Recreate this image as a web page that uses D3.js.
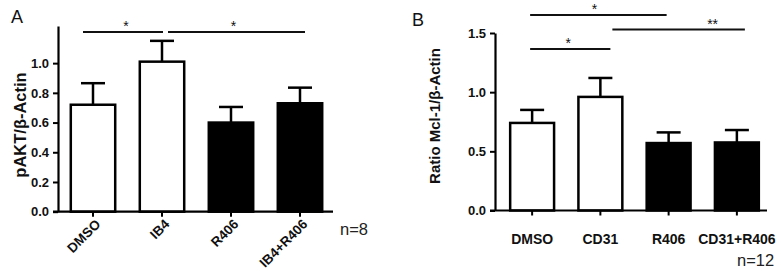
<!DOCTYPE html>
<html>
<head>
<meta charset="utf-8">
<script src="https://cdn.jsdelivr.net/npm/d3@7"></script>
<style>
  body { margin: 0; background: #fff; }
  svg { display: block; font-family: "Liberation Sans", Arial, sans-serif; }
</style>
</head>
<body>
<div class="chart-container"></div>
<script>
// Panel A data
const catsA = ["DMSO", "IB4", "R406", "IB4+R406"];
const meansA = [0.72, 1.01, 0.60, 0.73];
const semA = [0.145, 0.14, 0.105, 0.105];
const ticksA = [0, 0.2, 0.4, 0.6, 0.8, 1.0];
const sigA = [[0, 1, "*"], [1, 3, "*"]];

// Panel B data
const catsB = ["DMSO", "CD31", "R406", "CD31+R406"];
const meansB = [0.74, 0.96, 0.57, 0.575];
const semB = [0.11, 0.16, 0.09, 0.105];
const ticksB = [0, 0.5, 1.0, 1.5];
const sigB = [[0, 2, "*"], [1, 3, "**"], [0, 1, "*"]];

const width = 781;
const height = 271;

const svg = d3.select('.chart-container').append("svg")
    .attr("width", width)
    .attr("height", height);

function drawPanel(opt){
    const x = d3.scaleBand()
        .domain(opt.cats)
        .range([opt.left + opt.pad, opt.right])
        .paddingInner(0.32)
        .paddingOuter(0.16);

    const y = d3.scaleLinear()
        .domain(opt.yDomain)
        .range([opt.bottom, opt.top]);

    const g = svg.append("g");

    const data = opt.cats.map((c, i) => ({cat: c, mean: opt.means[i], sem: opt.sem[i]}));

    // error bars (upward only), drawn first so bar outline sits on top
    g.selectAll('.err')
        .data(data)
        .enter()
        .append('line')
        .attr('x1', d => x(d.cat) + x.bandwidth() / 2)
        .attr('x2', d => x(d.cat) + x.bandwidth() / 2)
        .attr('y1', d => y(d.mean))
        .attr('y2', d => y(d.mean + d.sem))
        .attr('stroke', '#000')
        .attr('stroke-width', 2.5);

    g.selectAll('.cap')
        .data(data)
        .enter()
        .append('line')
        .attr('x1', d => x(d.cat) + x.bandwidth() / 2 - 12)
        .attr('x2', d => x(d.cat) + x.bandwidth() / 2 + 12)
        .attr('y1', d => y(d.mean + d.sem))
        .attr('y2', d => y(d.mean + d.sem))
        .attr('stroke', '#000')
        .attr('stroke-width', 2.5);

    g.selectAll('rect')
        .data(data)
        .enter()
        .append('rect')
        .attr('x', d => x(d.cat) + 1.25)
        .attr('y', d => y(d.mean))
        .attr('width', x.bandwidth() - 2.5)
        .attr('height', d => y(0) - y(d.mean))
        .attr('fill', d => d.cat.includes("R406") ? '#000' : '#fff')
        .attr('stroke', '#000')
        .attr('stroke-width', 2.5);

    // x-axis
    const xAxis = g.append("g")
        .attr("transform", `translate(0,${opt.bottom})`)
        .call(d3.axisBottom(x).tickSize(5).tickSizeOuter(0).tickFormat(""));
    xAxis.select(".domain")
        .attr("d", `M${opt.left - 5},0H${opt.axisEnd}`)
        .attr("stroke-width", 2.2);
    xAxis.selectAll(".tick line").attr("stroke-width", 2);

    // y-axis
    const yAxis = g.append("g")
        .attr("transform", `translate(${opt.left},0)`)
        .call(d3.axisLeft(y).tickValues(opt.ticks).tickSize(5).tickSizeOuter(0)
            .tickFormat(d3.format(".1f")));
    yAxis.select(".domain").attr("stroke-width", 2.2);
    yAxis.selectAll(".tick line").attr("stroke-width", 2);
    yAxis.selectAll(".tick text")
        .attr("x", -9)
        .attr("font-size", 13)
        .attr("font-weight", "bold")
        .attr("font-family", "Liberation Sans, Arial, sans-serif")
        .attr("fill", "#111");

    // category labels
    if (opt.rotate) {
        g.selectAll('.cat')
            .data(opt.cats)
            .enter()
            .append('text')
            .attr('transform', d => `translate(${x(d) + x.bandwidth() / 2 + 5},${opt.bottom + 10}) rotate(-45)`)
            .attr('text-anchor', 'end')
            .attr('dy', '0.35em')
            .attr('font-size', 13.5)
            .attr('font-weight', 'bold')
            .attr('fill', '#111')
            .text(d => d);
    } else {
        g.selectAll('.cat')
            .data(opt.cats)
            .enter()
            .append('text')
            .attr('x', d => x(d) + x.bandwidth() / 2)
            .attr('y', opt.bottom + 33)
            .attr('text-anchor', 'middle')
            .attr('font-size', 14)
            .attr('font-weight', 'bold')
            .attr('fill', '#111')
            .text(d => d);
    }

    // significance lines
    opt.sig.forEach((s, i) => {
        const x1 = x(opt.cats[s[0]]) + x.bandwidth() / 2 + opt.sigOff[i][0];
        const x2 = x(opt.cats[s[1]]) + x.bandwidth() / 2 + opt.sigOff[i][1];
        const ly = opt.sigY[i];
        g.append('line')
            .attr('x1', x1).attr('x2', x2)
            .attr('y1', ly).attr('y2', ly)
            .attr('stroke', '#111')
            .attr('stroke-width', opt.sigW);
        g.append('text')
            .attr('x', (x1 + x2) / 2 + opt.starOff[i])
            .attr('y', ly - 1)
            .attr('text-anchor', 'middle')
            .attr('font-size', 14)
            .attr('fill', '#111')
            .text(s[2]);
    });

    // y title
    g.append('text')
        .attr('transform', `translate(${opt.titleX},${opt.titleY}) rotate(-90)`)
        .attr('text-anchor', 'middle')
        .attr('font-size', opt.titleSize)
        .attr('font-weight', 'bold')
        .attr('fill', '#111')
        .text(opt.title);

    // panel letter
    g.append('text')
        .attr('x', opt.letterX)
        .attr('y', opt.letterY)
        .attr('font-size', 18)
        .attr('fill', '#111')
        .text(opt.letter);

    // n
    g.append('text')
        .attr('x', opt.nX)
        .attr('y', opt.nY)
        .attr('font-size', 16.5)
        .attr('fill', '#222')
        .text(opt.n);
}

drawPanel({
    cats: catsA, means: meansA, sem: semA, ticks: ticksA, sig: sigA,
    left: 58, pad: 0.5, right: 334.5, axisEnd: 333, top: 26, bottom: 211.7,
    yDomain: [0, 1.25], rotate: true,
    sigY: [32, 32], sigOff: [[-10, 1], [6, 5]], starOff: [3, -3], sigW: 2,
    title: "pAKT/β-Actin", titleX: 26, titleY: 125, titleSize: 16.5,
    letter: "A", letterX: 11, letterY: 23,
    n: "n=8", nX: 340, nY: 235
});

drawPanel({
    cats: catsB, means: meansB, sem: semB, ticks: ticksB, sig: sigB,
    left: 495, pad: 3, right: 771, axisEnd: 767, top: 33, bottom: 210.5,
    yDomain: [0, 1.5], rotate: false,
    sigY: [15, 29.5, 49], sigOff: [[-2, -2], [12, 8], [-2, 10]], starOff: [-4, 34, -2], sigW: 1.8,
    title: "Ratio Mcl-1/β-Actin", titleX: 440, titleY: 116, titleSize: 15,
    letter: "B", letterX: 412, letterY: 26,
    n: "n=12", nX: 737, nY: 266
});
</script>
</body>
</html>
